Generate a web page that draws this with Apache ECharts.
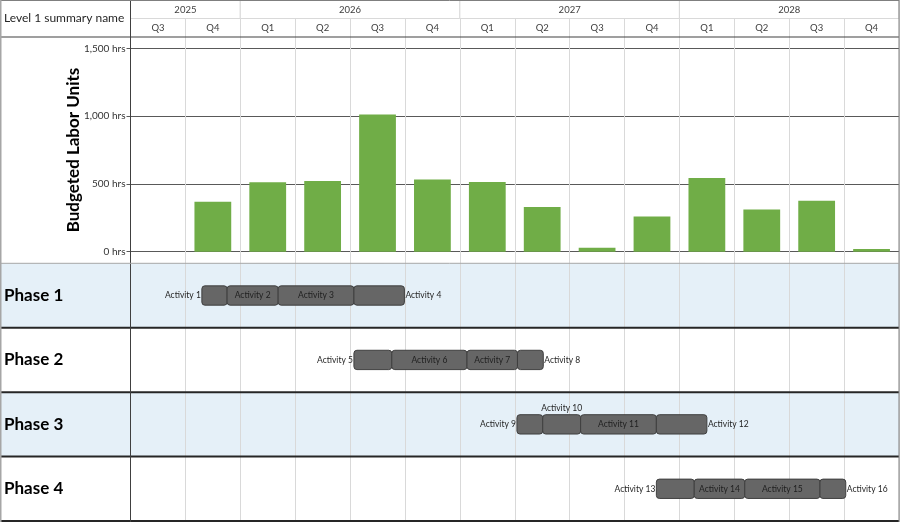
<!DOCTYPE html>
<html>
<head>
<meta charset="utf-8">
<title>Budgeted Labor Units</title>
<script src="https://cdn.jsdelivr.net/npm/echarts@6/dist/echarts.min.js"></script>
<style>
	html, body { margin:0; padding:0; background:#fff; }
	#chart { width:900px; height:522px; }
</style>
</head>
<body>
<div id="chart"></div>
<script>
// timeline columns
var quarters = ['Q3','Q4','Q1','Q2','Q3','Q4','Q1','Q2','Q3','Q4','Q1','Q2','Q3','Q4'];
var quarterYears = ['2025','2025','2026','2026','2026','2026','2027','2027','2027','2027','2028','2028','2028','2028'];

// budgeted labor units per quarter (hrs)
var laborHours = [null, 368, 512, 522, 1012, 533, 514, 330, 30, 260, 543, 312, 376, 20];
var hourTicks = [0, 500, 1000, 1500];

// phases and activities, start/end counted in quarters from 2025 Q3
var phases = ['Phase 1','Phase 2','Phase 3','Phase 4'];
var activities = ['Activity 1','Activity 2','Activity 3','Activity 4',
	'Activity 5','Activity 6','Activity 7','Activity 8',
	'Activity 9','Activity 10','Activity 11','Activity 12',
	'Activity 13','Activity 14','Activity 15','Activity 16'];
var actPhase = [0,0,0,0, 1,1,1,1, 2,2,2,2, 3,3,3,3];
var actStart = [1.30,1.76,2.69,4.07, 4.07,4.76,6.13,7.05, 7.04,7.51,8.20,9.58, 9.58,10.27,11.19,12.56];
var actEnd   = [1.76,2.69,4.07,4.99, 4.76,6.13,7.05,7.52, 7.51,8.20,9.58,10.50, 10.27,11.19,12.56,13.03];

var FONT = 'Lato';
var LEFT = 130.5, RIGHT = 899, H = 522;
var HEAD_H = 37, GANTT_TOP = 263.3;

// header cells: year spans (row 0) and quarter cells (row 1)
var headerCells = [], headerText = [];
quarterYears.forEach(function(y, i){
	if (i === 0 || quarterYears[i-1] !== y) {
		headerCells.push([i, i+1, 0]);
		headerText.push(y);
	} else {
		headerCells[headerCells.length-1][1] = i+1;
	}
});
quarters.forEach(function(q, i){
	headerCells.push([i, i+1, 1]);
	headerText.push(q);
});

var ctx = document.createElement('canvas').getContext('2d');
ctx.font = '8.5px ' + FONT;

function renderHeader(params, api){
	var row = api.value(2);
	var a = api.coord([api.value(0), row]);
	var b = api.coord([api.value(1), row+1]);
	var children = [];
	if (row === 0) {
		children.push({type:'rect', shape:{x:a[0], y:a[1], width:b[0]-a[0], height:b[1]-a[1]},
			style:{fill:'#fff', stroke:'#d9d9d9', lineWidth:1}});
	}
	children.push({type:'text', x:(a[0]+b[0])/2, y:(a[1]+b[1])/2+0.5,
		style:{text:headerText[params.dataIndex], fill:'#404040', fontSize:9.5, fontFamily:FONT,
			align:'center', verticalAlign:'middle'}});
	return {type:'group', children:children};
}

function renderBand(params, api){
	var c = api.coord([0, api.value(0)]);
	var bh = api.size([0, 1])[1];
	var cs = params.coordSys;
	return {type:'rect', shape:{x:0, y:c[1]-bh/2, width:cs.x+cs.width, height:bh},
		style:{fill: api.value(0) % 2 === 0 ? '#e5f0f8' : '#fff'}};
}

function renderSeparator(params, api){
	var c = api.coord([0, api.value(0)]);
	var bh = api.size([0, 1])[1];
	var cs = params.coordSys;
	var y = c[1] + bh/2;
	return {type:'line', shape:{x1:0, y1:y, x2:cs.x+cs.width, y2:y},
		style:{stroke:'#262626', lineWidth:2}};
}

function renderActivity(params, api){
	var i = params.dataIndex;
	var row = api.value(0);
	var a = api.coord([api.value(1), row]);
	var b = api.coord([api.value(2), row]);
	var h = api.size([0, 1])[1] * 0.3;
	var x0 = a[0], x1 = b[0], yc = a[1];
	var name = activities[i];
	var first = i === 0 || actPhase[i-1] !== row;
	var last = i === activities.length-1 || actPhase[i+1] !== row;
	var tw = ctx.measureText(name).width;
	var tx = (x0+x1)/2, ty = yc, align = 'center', va = 'middle';
	if (first) { tx = x0 - 1; align = 'right'; }
	else if (last) { tx = x1 + 1; align = 'left'; }
	else if (x1 - x0 < tw + 4) { ty = yc - h/2 - 1.5; va = 'bottom'; }
	return {type:'group', children:[
		{type:'rect', shape:{x:x0, y:yc-h/2, width:x1-x0, height:h, r:3},
			style:{fill:'#666666', stroke:'#3f3f3f', lineWidth:1}},
		{type:'text', x:tx, y:ty, z2:5, style:{text:name, fill:'#1f1f1f', fontSize:8.5, fontFamily:FONT,
			align:align, verticalAlign:va}}
	]};
}

var chart = echarts.init(document.getElementById('chart'), null, {renderer:'canvas'});
chart.setOption({
	animation: false,
	backgroundColor: '#fff',
	textStyle: {fontFamily: FONT},
	grid: [
		{left:LEFT, right:900-RIGHT, top:0, bottom:0},
		{left:LEFT, right:900-RIGHT, top:0, height:HEAD_H},
		{left:LEFT, right:900-RIGHT, top:48.3, height:203.4},
		{left:LEFT, right:900-RIGHT, top:GANTT_TOP, height:H-1-GANTT_TOP}
	],
	xAxis: [
		// background quarter lines over the whole height
		{gridIndex:0, type:'value', min:0, max:quarters.length, interval:1,
			axisLine:{show:false}, axisTick:{show:false}, axisLabel:{show:false},
			splitLine:{show:true, lineStyle:{color:'#d9d9d9', width:1}}},
		{gridIndex:1, type:'value', min:0, max:quarters.length, show:false},
		{gridIndex:2, type:'category', data:quarters.map(function(q, i){ return quarterYears[i]+' '+q; }),
			show:false},
		{gridIndex:3, type:'value', min:0, max:quarters.length, show:false}
	],
	yAxis: [
		{gridIndex:0, type:'value', show:false},
		{gridIndex:1, type:'value', min:0, max:2, inverse:true, show:false},
		{gridIndex:2, type:'value', min:hourTicks[0], max:hourTicks[hourTicks.length-1],
			interval:hourTicks[1]-hourTicks[0],
			name:'Budgeted Labor Units', nameLocation:'middle', nameGap:48, nameMoveOverlap:false,
			nameTextStyle:{fontSize:17, fontWeight:'bold', color:'#000', fontFamily:FONT},
			axisLine:{show:false},
			axisTick:{show:true, length:4, lineStyle:{color:'#595959'}},
			axisLabel:{margin:5, fontSize:10, color:'#333', fontFamily:FONT,
				formatter:function(v){ return v.toLocaleString('en-US') + ' hrs'; }},
			splitLine:{show:true, lineStyle:{color:'#595959', width:1}}},
		{gridIndex:3, type:'category', data:phases, inverse:true,
			axisLine:{show:false}, axisTick:{show:false}, splitLine:{show:false},
			axisLabel:{align:'left', margin:LEFT-4, fontSize:17, fontWeight:'bold', color:'#000', fontFamily:FONT}}
	],
	series: [
		{type:'custom', name:'header', xAxisIndex:1, yAxisIndex:1, renderItem:renderHeader,
			data:headerCells, z:2},
		{type:'bar', name:'Budgeted Labor Units', xAxisIndex:2, yAxisIndex:2, data:laborHours,
			barWidth:'67%', itemStyle:{color:'#70ad47'}, z:3},
		{type:'custom', name:'bands', xAxisIndex:3, yAxisIndex:3, renderItem:renderBand,
			data:phases.map(function(p, i){ return [i]; }), z:-1},
		{type:'custom', name:'separators', xAxisIndex:3, yAxisIndex:3, renderItem:renderSeparator,
			data:phases.map(function(p, i){ return [i]; }), z:6},
		{type:'custom', name:'activities', xAxisIndex:3, yAxisIndex:3, renderItem:renderActivity,
			data:activities.map(function(n, i){ return [actPhase[i], actStart[i], actEnd[i]]; }), z:8}
	],
	graphic: [
		{type:'line', z:10, shape:{x1:LEFT, y1:0, x2:LEFT, y2:H}, style:{stroke:'#404040', lineWidth:1}},
		{type:'line', z:10, shape:{x1:0, y1:HEAD_H, x2:RIGHT, y2:HEAD_H}, style:{stroke:'#404040', lineWidth:1.2}},
		{type:'line', z:10, shape:{x1:0, y1:0.5, x2:RIGHT, y2:0.5}, style:{stroke:'#7f7f7f', lineWidth:1}},
		{type:'line', z:10, shape:{x1:0.75, y1:0, x2:0.75, y2:H}, style:{stroke:'#a6a6a6', lineWidth:1.5}},
		{type:'line', z:10, shape:{x1:RIGHT, y1:0, x2:RIGHT, y2:H}, style:{stroke:'#7f7f7f', lineWidth:1}},
		{type:'line', z:10, shape:{x1:0, y1:GANTT_TOP, x2:RIGHT, y2:GANTT_TOP}, style:{stroke:'#a6a6a6', lineWidth:1}},
		{type:'text', z:10, x:4, y:HEAD_H/2, style:{text:'Level 1 summary name', fill:'#262626',
			fontSize:12, fontFamily:FONT, verticalAlign:'middle'}}
	]
});
</script>
</body>
</html>
